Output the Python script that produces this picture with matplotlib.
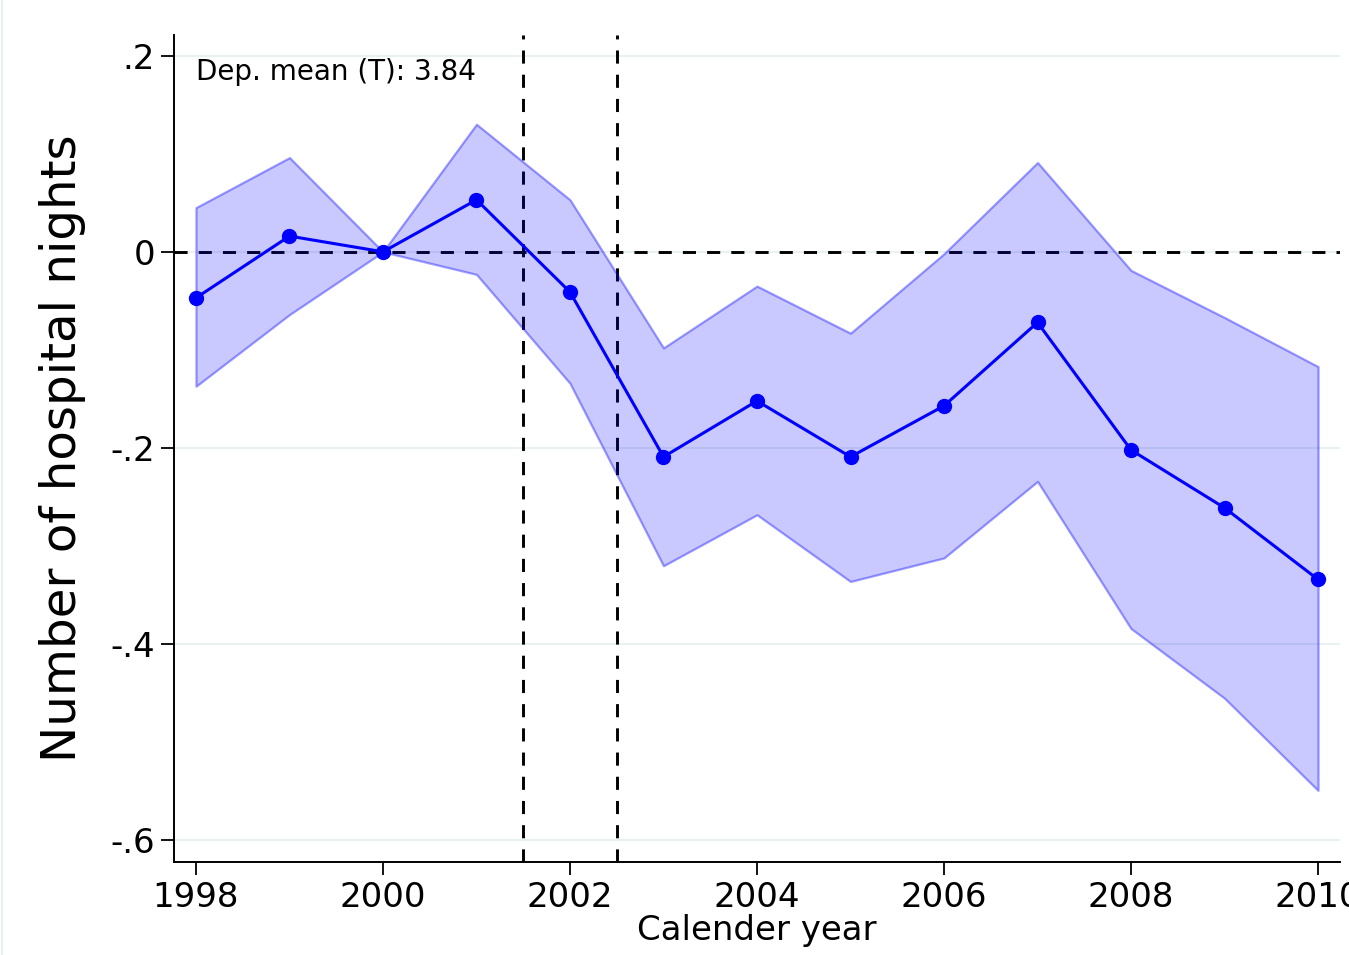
import matplotlib
matplotlib.use('Agg')
import matplotlib.pyplot as plt
from matplotlib.ticker import FuncFormatter

# Coefficients and 95% CI
years = [1998, 1999, 2000, 2001, 2002, 2003, 2004, 2005, 2006, 2007, 2008, 2009, 2010]
coef = [-0.047, 0.016, 0.0, 0.053, -0.041, -0.209, -0.152, -0.209, -0.157, -0.072, -0.202, -0.261, -0.334]
ci_hi = [0.045, 0.096, 0.0, 0.130, 0.053, -0.098, -0.035, -0.083, -0.002, 0.091, -0.019, -0.067, -0.117]
ci_lo = [-0.137, -0.064, 0.0, -0.023, -0.134, -0.320, -0.268, -0.336, -0.312, -0.234, -0.384, -0.455, -0.549]
y_ticks = [0.2, 0.0, -0.2, -0.4, -0.6]
x_ticks = [1998, 2000, 2002, 2004, 2006, 2008, 2010]
reform_lines = [2001.5, 2002.5]
dep_mean = 3.84

plt.rcParams['font.family'] = 'DejaVu Sans'

fig = plt.figure(figsize=(13.49, 9.55), dpi=100)
ax = fig.add_axes([174 / 1349, 93 / 955, 1166 / 1349, 827 / 955])

# faint outline on the left edge of the graph region
fig.add_artist(plt.Line2D([0.0015, 0.0015], [0, 1], color='#e6eef0', lw=1.2, transform=fig.transFigure))

# grid first so everything sits on top
for yv in y_ticks:
    ax.axhline(yv, color='#eaf1f2', lw=1.5, zorder=0)

# reference lines sit under the translucent CI band
ax.axhline(0, color='black', lw=2.1, dashes=(4.5, 3.8), zorder=1)
for xv in reform_lines:
    ax.axvline(xv, color='black', lw=2.1, dashes=(4.5, 3.8), zorder=1)

ax.fill_between(years, ci_lo, ci_hi, facecolor=(0, 0, 1, 0.21), edgecolor=(0, 0, 1, 0.38),
                lw=1.6, zorder=2)
ax.plot(years, coef, color='#0000ff', lw=2.2, marker='o', ms=10, zorder=3)

ax.text(1998, 0.183, f"Dep. mean (T): {dep_mean:.2f}", fontsize=20, va='center', ha='left')

ax.set_xlim(1997.765, 2010.235)
ax.set_ylim(-0.622, 0.221)
ax.set_xticks(x_ticks)
ax.set_yticks(y_ticks)


def fmt(v, pos):
    if abs(v) < 1e-9:
        return "0"
    s = f"{v:.1f}".replace("0.", ".")
    return s


ax.yaxis.set_major_formatter(FuncFormatter(fmt))
ax.tick_params(axis='both', labelsize=24.5, length=9.5, width=1.3, direction='out', pad=4)

for side in ['top', 'right']:
    ax.spines[side].set_visible(False)
for side in ['left', 'bottom']:
    ax.spines[side].set_linewidth(1.4)

ax.set_xlabel("Calender year", fontsize=24.5, labelpad=0)
ax.set_ylabel("Number of hospital nights", fontsize=34.8, labelpad=18)

plt.savefig('out.png', dpi=100)
